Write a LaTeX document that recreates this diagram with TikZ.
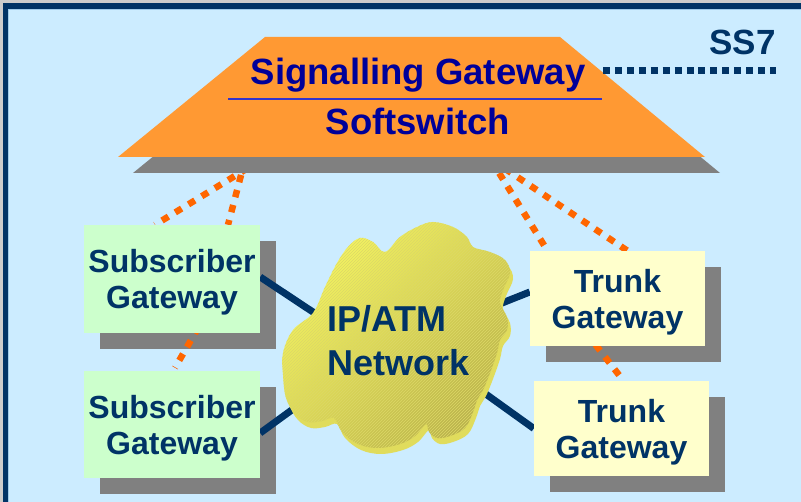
\documentclass[tikz,border=0pt]{standalone}
\usepackage{fontspec}
\setmainfont{Liberation Sans}
\usetikzlibrary{calc,patterns}

\definecolor{bgblue}{HTML}{CCECFF}
\definecolor{frameline}{HTML}{9FCBEA}
\definecolor{navy}{HTML}{003366}
\definecolor{sgblue}{HTML}{000099}
\definecolor{ulblue}{HTML}{3333CC}
\definecolor{sworange}{HTML}{FF9933}
\definecolor{dotorange}{HTML}{FF6600}
\definecolor{shadowgray}{HTML}{808080}
\definecolor{subgreen}{HTML}{CCFFCC}
\definecolor{trunkyellow}{HTML}{FFFFCC}
\definecolor{cloudhi}{HTML}{F7F762}
\definecolor{cloudlo}{HTML}{BAB24C}
\definecolor{cloudedge}{HTML}{E0DC5C}
\definecolor{cloudstripe}{HTML}{DCD866}

\pgfdeclarelayer{bg}
\pgfdeclarelayer{shadows}
\pgfdeclarelayer{links}
\pgfsetlayers{bg,shadows,links,main}

\tikzset{
  gwbox/.style={inner sep=0pt, align=center, text=navy,
    font=\fontsize{32}{36}\selectfont\bfseries},
  subbox/.style={gwbox, fill=subgreen, minimum width=176pt, minimum height=#1},
  trunkbox/.style={gwbox, fill=trunkyellow, minimum width=175pt, minimum height=95pt},
  sgtext/.style={inner sep=0pt, anchor=base, text=sgblue,
    font=\fontsize{36.5}{40}\selectfont\bfseries},
  nettext/.style={inner sep=0pt, anchor=base west, text=navy,
    font=\fontsize{36}{40}\selectfont\bfseries},
  siglink/.style={dotorange, line width=6.5pt, dash pattern=on 7.5pt off 8pt},
  ss7link/.style={navy, line width=7.5pt, dash pattern=on 7pt off 4.93pt},
  netlink/.style={navy, line width=7pt},
  boxshadow/.style={fill=shadowgray}
}

\newcommand{\gwtext}[2]{\rule{0pt}{30pt}#1\\#2}

\begin{document}
\begin{tikzpicture}[x=1pt, y=-1pt]
\useasboundingbox (0,0) rectangle (801,502);

% background and frame
\begin{pgfonlayer}{bg}
  \fill[gray!40] (0,0) rectangle (801,502);
  \fill[bgblue] (2.7,3.3) rectangle (801,502);
  \fill[navy] (2.7,3.3) rectangle (801,8.7);
  \fill[navy] (2.7,3.3) rectangle (8.3,502);
  \draw[frameline, line width=1pt] (8.8,502) -- (8.8,9.2) -- (801,9.2);
\end{pgfonlayer}

% gateway boxes
\node[subbox=108pt] (s1) at (172,279) {\gwtext{Subscriber}{Gateway}};
\node[subbox=107pt] (s2) at (172,424.5) {\gwtext{Subscriber}{Gateway}};
\node[trunkbox] (t1) at (617.5,298.5) {\gwtext{Trunk}{Gateway}};
\node[trunkbox] (t2) at (621.5,428.5) {\gwtext{Trunk}{Gateway}};

% box shadows
\begin{pgfonlayer}{shadows}
  \foreach \b in {s1,s2,t1,t2}
    \fill[boxshadow] ($(\b.south west)+(16,16)$) rectangle ($(\b.north east)+(16,16)$);
\end{pgfonlayer}

% signalling link end points inside the softswitch
\coordinate (swl1) at (261,160);
\coordinate (swl2) at (245,160);
\coordinate (swr1) at (491,160);
\coordinate (swr2) at (492,160);

% points where the access links meet the network cloud
\coordinate (c1) at (322,318);
\coordinate (c2) at (300,404);
\coordinate (c3) at (492,307);
\coordinate (c4) at (476,387);

\begin{pgfonlayer}{links}
  % signalling (dotted orange)
  \draw[siglink] (swl1) -- ($(s1.north)+(-17,0)$);
  \draw[siglink] (swl2) -- ($(s1.north)+(56,0)$);
  \draw[siglink] (swr1) -- ($(t1.north)+(-70,0)$);
  \draw[siglink] (swr2) -- ($(t1.north)+(10,0)$);
  \draw[siglink] ($(s1.south)+(42,-33)$) -- ($(s2.north)+(3,-3)$);
  \draw[siglink] ($(t1.south)+(-41,-26)$) -- ($(t2.north)+(2,0)$);
  % transport links (solid navy)
  \draw[netlink] ($(s1.east)+(0,-2)$) -- (c1);
  \draw[netlink] ($(s2.east)+(0,8.5)$) -- (c2);
  \draw[netlink] ($(t1.west)+(0,-6.5)$) -- (c3);
  \draw[netlink] (t2.west) -- (c4);
\end{pgfonlayer}

% IP/ATM network cloud
\path[preaction={fill=cloudedge, transform canvas={shift={(3pt,-6pt)}}},
      top color=cloudhi, bottom color=cloudlo, shading angle=45,
      postaction={pattern=north east lines, pattern color=cloudstripe, fill opacity=0.3}]
  plot[smooth cycle, tension=0.6] coordinates {
    (283,353) (293,330) (313,313) (325,287) (337,263) (348,247) (360,238)
    (373,242) (385,252) (400,237) (417,227) (433,222) (453,227) (467,237)
    (473,247) (490,252) (505,260) (510,273) (503,290) (500,303) (507,317)
    (507,330) (500,340) (497,353) (490,373) (483,390) (477,400) (473,412)
    (465,428) (450,436) (437,438) (429,432) (426,424) (415,436) (400,444)
    (378,448) (358,444) (342,432) (334,418) (322,421) (308,422) (295,414)
    (286,398) (283,375)};
\node[nettext] (ip) at (327,332) {IP/ATM};
\node[nettext] (nw) at (327,376) {Network};

% softswitch / signalling gateway
\fill[shadowgray] (280,53) -- (575,53) -- (720,173) -- (133,173) -- cycle;
\fill[sworange] (265,37) -- (560,37) -- (705,157) -- (118,157) -- cycle;
\node[sgtext] (sg) at (418,85) {Signalling Gateway};
\node[sgtext] (sw) at (418,135) {Softswitch};
\coordinate (ula) at (228,99);
\coordinate (ulb) at (602,99);
\draw[ulblue, line width=2.5pt] (ula) -- (ulb);

% SS7 link
\node[inner sep=0pt, anchor=base east, text=navy,
      font=\fontsize{35}{40}\selectfont\bfseries] (ss7) at (776,55) {SS7};
\coordinate (ss7a) at (603,70.5);
\coordinate (ss7b) at (776,70.5);
\draw[ss7link] (ss7a) -- (ss7b);
\end{tikzpicture}
\end{document}
